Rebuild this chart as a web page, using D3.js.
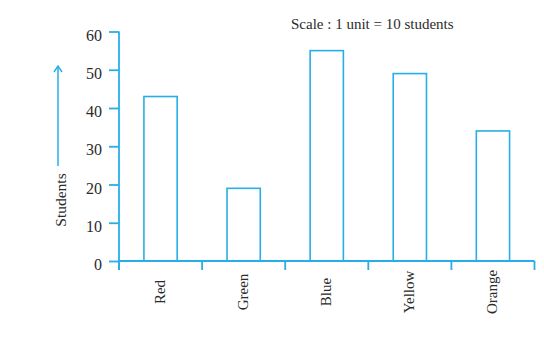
<!DOCTYPE html>
<html>
<head>
<meta charset="utf-8">
<script src="https://cdn.jsdelivr.net/npm/d3@7"></script>
<style>
  html, body { margin: 0; padding: 0; background: #fff; }
  svg text { font-family: "Liberation Serif", "Times New Roman", serif; fill: #2b2b2b; }
</style>
</head>
<body>
<svg id="chart" width="544" height="345"></svg>
<script>
// Favourite colours of students (1 unit = 10 students)
const categories = ["Red", "Green", "Blue", "Yellow", "Orange"];
const students = [43, 19, 55, 49, 34];
const yTicks = [0, 10, 20, 30, 40, 50, 60];

const blue = "#27aee8";
const serif = "'Liberation Serif', 'Times New Roman', serif";
const svg = d3.select("#chart");

const x = d3.scaleBand()
  .domain(categories)
  .range([119, 534.5])
  .paddingInner(0.6)
  .paddingOuter(0.3);

const y = d3.scaleLinear()
  .domain([0, 60])
  .range([261, 31.5]);

// bars
svg.append("g")
  .selectAll("rect")
  .data(categories)
  .join("rect")
  .attr("x", d => x(d))
  .attr("y", (d, i) => y(students[i]))
  .attr("width", x.bandwidth())
  .attr("height", (d, i) => y(0) - y(students[i]))
  .attr("fill", "#fff")
  .attr("stroke", blue)
  .attr("stroke-width", 1.6);

// y axis
const yAxis = svg.append("g")
  .attr("transform", "translate(119,0)")
  .call(d3.axisLeft(y).tickValues(yTicks).tickSize(10).tickPadding(7).tickSizeOuter(0))
  .attr("font-family", serif)
  .attr("font-size", 16);
yAxis.select(".domain").remove();
yAxis.append("line")
  .attr("x1", 0).attr("x2", 0)
  .attr("y1", y(60)).attr("y2", 270)
  .attr("stroke", blue).attr("stroke-width", 1.8);
yAxis.selectAll(".tick line").attr("stroke", blue).attr("stroke-width", 1.8);
yAxis.selectAll(".tick text")
  .attr("dy", "0.54em")
  .style("font-family", serif)
  .style("font-size", "16px")
  .style("fill", "#2b2b2b");

// x axis baseline and category separators
const step = x.step();
const xg = svg.append("g");
xg.append("line")
  .attr("x1", 119).attr("x2", 534.5)
  .attr("y1", y(0)).attr("y2", y(0))
  .attr("stroke", blue).attr("stroke-width", 1.8);
xg.selectAll("line.sep")
  .data(d3.range(categories.length + 1))
  .join("line")
  .attr("class", "sep")
  .attr("x1", i => 119 + i * step)
  .attr("x2", i => 119 + i * step)
  .attr("y1", y(0)).attr("y2", 270)
  .attr("stroke", blue).attr("stroke-width", 1.8);

// rotated category labels
xg.selectAll("text")
  .data(categories)
  .join("text")
  .attr("transform", d => `translate(${x(d) + x.bandwidth() / 2 + 4},292) rotate(-90)`)
  .attr("text-anchor", "middle")
  .style("font-size", "15px")
  .text(d => d);

// y axis title with upward arrow
svg.append("text")
  .attr("transform", "translate(65.5,200) rotate(-90)")
  .attr("text-anchor", "middle")
  .style("font-size", "15.5px")
  .text("Students");
svg.append("line")
  .attr("x1", 58).attr("x2", 58)
  .attr("y1", 166).attr("y2", 67)
  .attr("stroke", blue).attr("stroke-width", 1.5);
svg.append("path")
  .attr("d", "M54,72 L58,66 L62,72")
  .attr("fill", "none")
  .attr("stroke", blue).attr("stroke-width", 1.5);

// scale note
svg.append("text")
  .attr("x", 291)
  .attr("y", 29)
  .style("font-size", "15px")
  .text("Scale : 1 unit = 10 students");
</script>
</body>
</html>
